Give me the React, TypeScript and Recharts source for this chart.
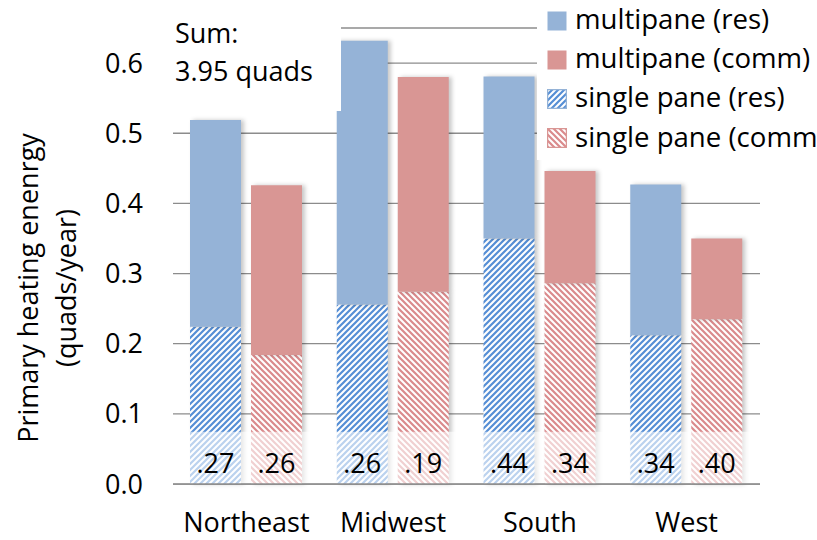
import React from 'react';
import { BarChart, Bar, XAxis, YAxis, CartesianGrid, ReferenceArea, LabelList } from 'recharts';

// values (quads/year)
const regions = ['Northeast', 'Midwest', 'South', 'West'];
const singleRes = [0.224, 0.256, 0.35, 0.212];
const multiRes = [0.295, 0.376, 0.231, 0.215];
const singleComm = [0.184, 0.274, 0.286, 0.235];
const multiComm = [0.242, 0.306, 0.16, 0.115];
const resLabels = ['.27', '.26', '.44', '.34'];
const commLabels = ['.26', '.19', '.34', '.40'];
const yTicks = [0, 0.1, 0.2, 0.3, 0.4, 0.5, 0.6];

const BLUE = '#95b3d7';
const RED = '#d99694';
const BLUE_HATCH = '#558ed5';
const RED_HATCH = '#da8a8c';
const FONT = '"Open Sans", sans-serif';

const legendItems = [
    { name: 'multipane (res)', fill: BLUE, border: 'none' },
    { name: 'multipane (comm)', fill: RED, border: 'none' },
    { name: 'single pane (res)', fill: 'url(#hatchRes)', border: BLUE },
    { name: 'single pane (comm)', fill: 'url(#hatchComm)', border: RED },
];

const data = regions.map((region, i) => ({
    region,
    singleRes: singleRes[i],
    multiRes: multiRes[i],
    singleComm: singleComm[i],
    multiComm: multiComm[i],
    resLabel: resLabels[i],
    commLabel: commLabels[i],
}));

const BottomLabel = (props: any) => {
    const { x, y, width, height, value } = props;
    return (
        <text x={x + width / 2} y={y + height - 11} textAnchor="middle" fill="#000" fontSize={27} fontFamily={FONT}>
            {value}
        </text>
    );
};

const YTitle = () => (
    <g fontFamily={FONT} fontSize={27} fill="#000">
        <text x={27} y={288} transform="rotate(-90, 27, 288)" textAnchor="middle" dominantBaseline="central">
            Primary heating enenrgy
        </text>
        <text x={65} y={288} transform="rotate(-90, 65, 288)" textAnchor="middle" dominantBaseline="central">
            (quads/year)
        </text>
    </g>
);

const Swatch = ({ fill, border }: { fill: string; border: string }) => (
    <svg width={20} height={20} style={{ marginRight: 8, marginTop: 4, flexShrink: 0 }}>
        <rect x={0.5} y={0.5} width={19} height={19} fill={fill} stroke={border} strokeWidth={border === 'none' ? 0 : 1.5} />
    </svg>
);

export default function App() {
    return (
        <div style={{ position: 'absolute', left: 0, top: 0, width: 817, height: 540, overflow: 'hidden', background: '#fff', fontFamily: FONT }}>
            <style>{`.recharts-bar-rectangles { filter: drop-shadow(3px 0px 2px rgba(0,0,0,0.22)); }`}</style>
            <svg width={0} height={0} style={{ position: 'absolute' }}>
                <defs>
                    <pattern id="hatchRes" width={6} height={6} patternUnits="userSpaceOnUse">
                        <rect width={6} height={6} fill="#fff" />
                        <path d="M0,6 L6,0 M-1.5,1.5 L1.5,-1.5 M4.5,7.5 L7.5,4.5" stroke={BLUE_HATCH} strokeWidth={2.2} />
                    </pattern>
                    <pattern id="hatchComm" width={6} height={6} patternUnits="userSpaceOnUse">
                        <rect width={6} height={6} fill="#fff" />
                        <path d="M0,0 L6,6 M-1.5,4.5 L1.5,7.5 M4.5,-1.5 L7.5,1.5" stroke={RED_HATCH} strokeWidth={2.2} />
                    </pattern>
                </defs>
            </svg>

            <BarChart
                width={817}
                height={540}
                data={data}
                margin={{ top: 28, right: 57, left: 0, bottom: 0 }}
                barSize={51}
                barGap={10}
            >
                <CartesianGrid vertical={false} stroke="#8c8c8c" strokeWidth={1.3} />
                <XAxis
                    dataKey="region"
                    axisLine={{ stroke: '#8c8c8c', strokeWidth: 1.3 }}
                    tickLine={false}
                    tickSize={0}
                    tickMargin={29}
                    height={56}
                    tick={{ fill: '#000', fontSize: 27, fontFamily: FONT }}
                />
                <YAxis
                    domain={[0, 0.65]}
                    ticks={yTicks}
                    tickFormatter={(v: number) => v.toFixed(1)}
                    axisLine={false}
                    tickLine={false}
                    tickSize={0}
                    tickMargin={30}
                    width={173}
                    tick={{ fill: '#000', fontSize: 27, fontFamily: FONT }}
                    label={{ content: () => <YTitle /> }}
                />
                <Bar dataKey="singleRes" stackId="res" fill="url(#hatchRes)" isAnimationActive={false}>
                    <LabelList dataKey="resLabel" content={<BottomLabel />} />
                </Bar>
                <Bar dataKey="multiRes" stackId="res" fill={BLUE} isAnimationActive={false} />
                <Bar dataKey="singleComm" stackId="comm" fill="url(#hatchComm)" isAnimationActive={false}>
                    <LabelList dataKey="commLabel" content={<BottomLabel />} />
                </Bar>
                <Bar dataKey="multiComm" stackId="comm" fill={RED} isAnimationActive={false} />
                <ReferenceArea y1={0} y2={0.0745} fill="#fff" fillOpacity={0.6} stroke="none" zIndex={350} />
            </BarChart>

            {/* text box */}
            <div style={{ position: 'absolute', left: 160, top: 0, width: 181, height: 111, background: '#fff' }}>
                <div style={{ position: 'absolute', left: 15, top: 13.6, fontSize: 27, lineHeight: '38.4px', color: '#000' }}>
                    Sum:<br />3.95 quads
                </div>
            </div>

            {/* legend */}
            <div style={{ position: 'absolute', left: 537, top: 0, width: 300, height: 160, background: '#fff' }}>
                <div style={{ position: 'absolute', left: 10, top: -1 }}>
                    {legendItems.map((item) => (
                        <div key={item.name} style={{ display: 'flex', alignItems: 'center', height: 39.2, fontSize: 27.6, lineHeight: '39.2px', whiteSpace: 'nowrap', color: '#000' }}>
                            <Swatch fill={item.fill} border={item.border} />
                            {item.name}
                        </div>
                    ))}
                </div>
            </div>
        </div>
    );
}
